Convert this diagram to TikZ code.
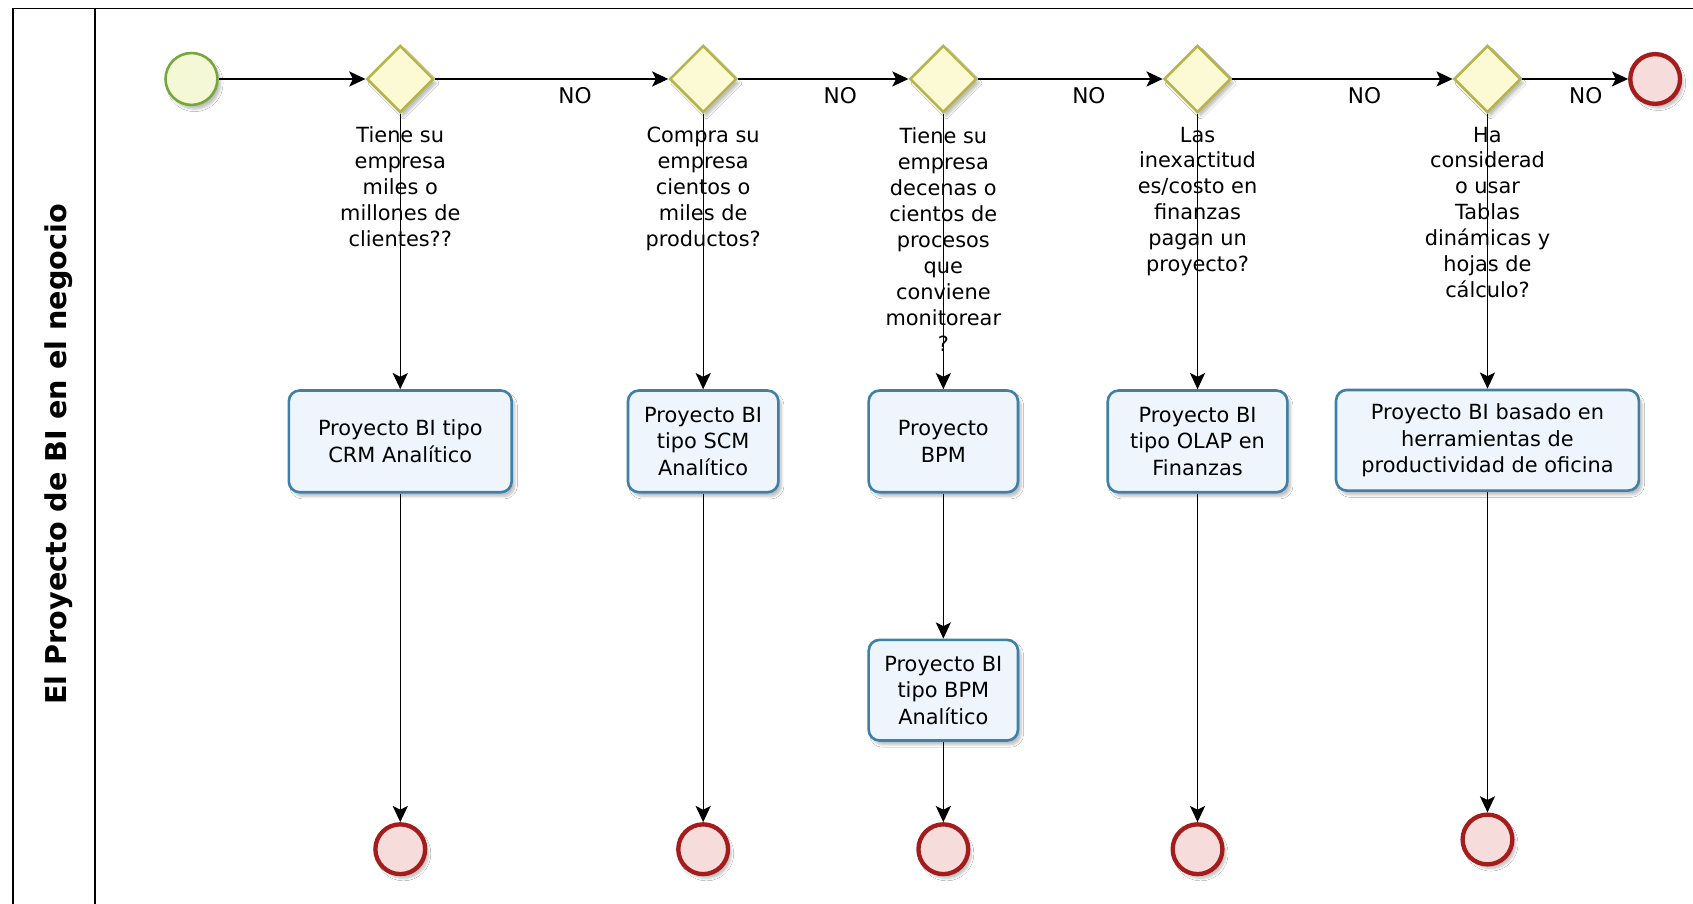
\documentclass[tikz,border=0pt]{standalone}
\usepackage{fontspec}
\setmainfont{DejaVu Sans}
\usetikzlibrary{shapes.geometric,arrows.meta,shadows.blur}
\definecolor{startline}{HTML}{74A83A}
\definecolor{startfill}{HTML}{F4F8D6}
\definecolor{gwline}{HTML}{B8B44A}
\definecolor{gwfill}{HTML}{FBFAD4}
\definecolor{endline}{HTML}{A51C1C}
\definecolor{endfill}{HTML}{F7DCDC}
\definecolor{taskline}{HTML}{3F7FA8}
\definecolor{taskfill}{HTML}{EEF5FC}
\tikzset{
  frameline/.style={draw=black, line width=1.4pt},
  shad/.style={blur shadow={shadow blur steps=6, shadow xshift=3pt, shadow yshift=-4pt, shadow opacity=25}},
  startev/.style={circle, draw=startline, fill=startfill, line width=2.4pt, minimum size=48pt, inner sep=0pt, shad},
  endev/.style={circle, draw=endline, fill=endfill, line width=4pt, minimum size=46pt, inner sep=0pt, shad},
  gw/.style={diamond, draw=gwline, fill=gwfill, line width=2.4pt, minimum size=62pt, inner sep=0pt, shad},
  task/.style={rectangle, rounded corners=10pt, draw=taskline, fill=taskfill, line width=2.4pt, inner sep=0pt, align=center, font=\fontsize{19.3}{24.5}\selectfont, shad},
  question/.style={anchor=north, inner sep=0pt, align=center, font=\fontsize{19.3}{24}\selectfont},
  flow/.style={draw=black, line width=1.2pt, -{Stealth[length=15pt,width=14pt,inset=3.5pt]}},
  nolabel/.style={pos=0.6, below=7pt, inner sep=0pt, font=\fontsize{20}{22}\selectfont}
}
\begin{document}
\begin{tikzpicture}[x=1pt,y=-1pt]
\clip (0,0) rectangle (1565,835.6);
\fill[white] (0,0) rectangle (1565,835.6);
% pool frame
\draw[frameline] (12,8) rectangle (1620,900);
\draw[frameline] (88,8) -- (88,900);
\node[rotate=90, font=\bfseries\fontsize{26.5}{30}\selectfont] (title) at (54,420) {El Proyecto de BI en el negocio};

% question labels
\node[question] (q1) at (370,117) {Tiene su\\empresa\\miles o\\millones de\\clientes??};
\node[question] (q2) at (650,117) {Compra su\\empresa\\cientos o\\miles de\\productos?};
\node[question] (q3) at (872,118) {Tiene su\\empresa\\decenas o\\cientos de\\procesos\\que\\conviene\\monitorear\\?};
\node[question] (q4) at (1107,117) {Las\\inexactitud\\es/costo en\\finanzas\\pagan un\\proyecto?};
\node[question] (q5) at (1375,117) {Ha\\considerad\\o usar\\Tablas\\dinámicas y\\hojas de\\cálculo?};

% events and gateways
\node[startev] (s) at (177,73) {};
\node[gw] (g1) at (370,73) {};
\node[gw] (g2) at (650,73) {};
\node[gw] (g3) at (872,73) {};
\node[gw] (g4) at (1107,73) {};
\node[gw] (g5) at (1375,73) {};
\node[endev] (e0) at (1530,73) {};

% tasks
\node[task, minimum width=206pt, minimum height=94pt] (t1) at (370,408) {Proyecto BI tipo\\CRM Analítico};
\node[task, minimum width=139pt, minimum height=94pt] (t2) at (650,408) {Proyecto BI\\tipo SCM\\Analítico};
\node[task, minimum width=138pt, minimum height=94pt] (t3) at (872,408) {Proyecto\\BPM};
\node[task, minimum width=138pt, minimum height=93pt] (t4) at (872,638) {Proyecto BI\\tipo BPM\\Analítico};
\node[task, minimum width=166pt, minimum height=94pt] (t5) at (1107,408) {Proyecto BI\\tipo OLAP en\\Finanzas};
\node[task, minimum width=280pt, minimum height=93pt] (t6) at (1375,407) {Proyecto BI basado en\\herramientas de\\productividad de oficina};

% end events
\node[endev] (e1) at (370,785) {};
\node[endev] (e2) at (650,785) {};
\node[endev] (e3) at (872,785) {};
\node[endev] (e4) at (1107,785) {};
\node[endev] (e5) at (1375,776) {};

% flows
\draw[flow] (s) -- (g1);
\draw[flow] (g1) -- node[nolabel] {NO} (g2);
\draw[flow] (g2) -- node[nolabel] {NO} (g3);
\draw[flow] (g3) -- node[nolabel] {NO} (g4);
\draw[flow] (g4) -- node[nolabel] {NO} (g5);
\draw[flow] (g5) -- node[nolabel] {NO} (e0);
\draw[flow] (g1) -- (t1);
\draw[flow] (g2) -- (t2);
\draw[flow] (g3) -- (t3);
\draw[flow] (g4) -- (t5);
\draw[flow] (g5) -- (t6);
\draw[flow] (t1) -- (e1);
\draw[flow] (t2) -- (e2);
\draw[flow] (t3) -- (t4);
\draw[flow] (t4) -- (e3);
\draw[flow] (t5) -- (e4);
\draw[flow] (t6) -- (e5);
\end{tikzpicture}
\end{document}
